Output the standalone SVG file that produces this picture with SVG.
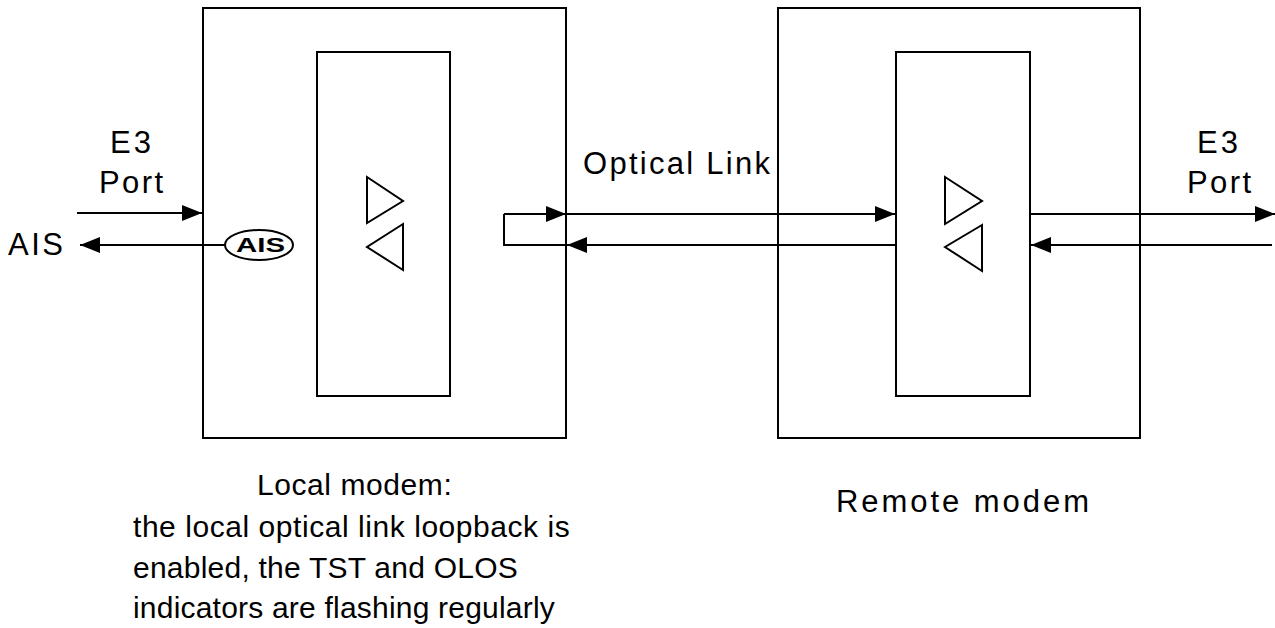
<svg xmlns="http://www.w3.org/2000/svg" width="1275" height="628" viewBox="0 0 1275 628">
<style>
.box{fill:none;stroke:#000;stroke-width:2}
.ln{fill:none;stroke:#000;stroke-width:2}
text{font-family:"Liberation Sans",Arial,sans-serif;font-size:31px;fill:#000}
.s{font-size:30px;letter-spacing:0.25px}
.b{font-weight:bold;font-size:20px;letter-spacing:0}
</style>
<defs>
<marker id="a" viewBox="0 0 20 16" refX="20" refY="8" markerWidth="21" markerHeight="16" orient="auto" markerUnits="userSpaceOnUse">
<path d="M0,0 L20,8 L0,16 Z" fill="#000"/>
</marker>
</defs>
<rect width="1275" height="628" fill="#fff"/>
<g id="local-modem">
<rect class="box" x="203" y="8" width="363" height="430"/>
<rect class="box" x="317" y="52" width="133" height="344"/>
<path class="ln" d="M367,177 L403,201 L367,223 Z"/>
<path class="ln" d="M403,224 L367,247 L403,270 Z"/>
</g>
<g id="remote-modem">
<rect class="box" x="778" y="8" width="362" height="430"/>
<rect class="box" x="896" y="52" width="134" height="344"/>
<path class="ln" d="M945,177 L982,201 L945,224 Z"/>
<path class="ln" d="M982,225 L945,247 L982,271 Z"/>
</g>
<g id="ais-badge">
<ellipse class="box" cx="259" cy="245" rx="34" ry="15"/>
<text class="b" x="236" y="252" textLength="49" lengthAdjust="spacingAndGlyphs">AIS</text>
</g>
<g id="connectors">
<line class="ln" x1="77" y1="213" x2="202" y2="213" marker-end="url(#a)"/>
<line class="ln" x1="225" y1="245" x2="80" y2="245" marker-end="url(#a)"/>
<path class="ln" d="M504,214 L504,245 L566,245"/>
<line class="ln" x1="504" y1="214" x2="566" y2="214" marker-end="url(#a)"/>
<line class="ln" x1="566" y1="214" x2="895" y2="214" marker-end="url(#a)"/>
<line class="ln" x1="895" y1="245" x2="567" y2="245" marker-end="url(#a)"/>
<line class="ln" x1="1030" y1="214" x2="1275" y2="214" marker-end="url(#a)"/>
<line class="ln" x1="1272" y1="245" x2="1031" y2="245" marker-end="url(#a)"/>
</g>
<g id="labels">
<text x="110" y="153" textLength="41">E3</text>
<text x="99" y="193" textLength="64">Port</text>
<text x="8" y="255" textLength="55">AIS</text>
<text x="583" y="174" textLength="187">Optical Link</text>
<text x="1197" y="153" textLength="41">E3</text>
<text x="1187" y="193" textLength="64">Port</text>
<text class="s" x="257" y="495" textLength="195">Local modem:</text>
<text class="s" x="133" y="537" textLength="437">the local optical link loopback is</text>
<text class="s" x="133" y="578" textLength="385">enabled, the TST and OLOS</text>
<text class="s" x="133" y="618" textLength="422">indicators are flashing regularly</text>
<text x="836" y="512" textLength="253">Remote modem</text>
</g>
</svg>
